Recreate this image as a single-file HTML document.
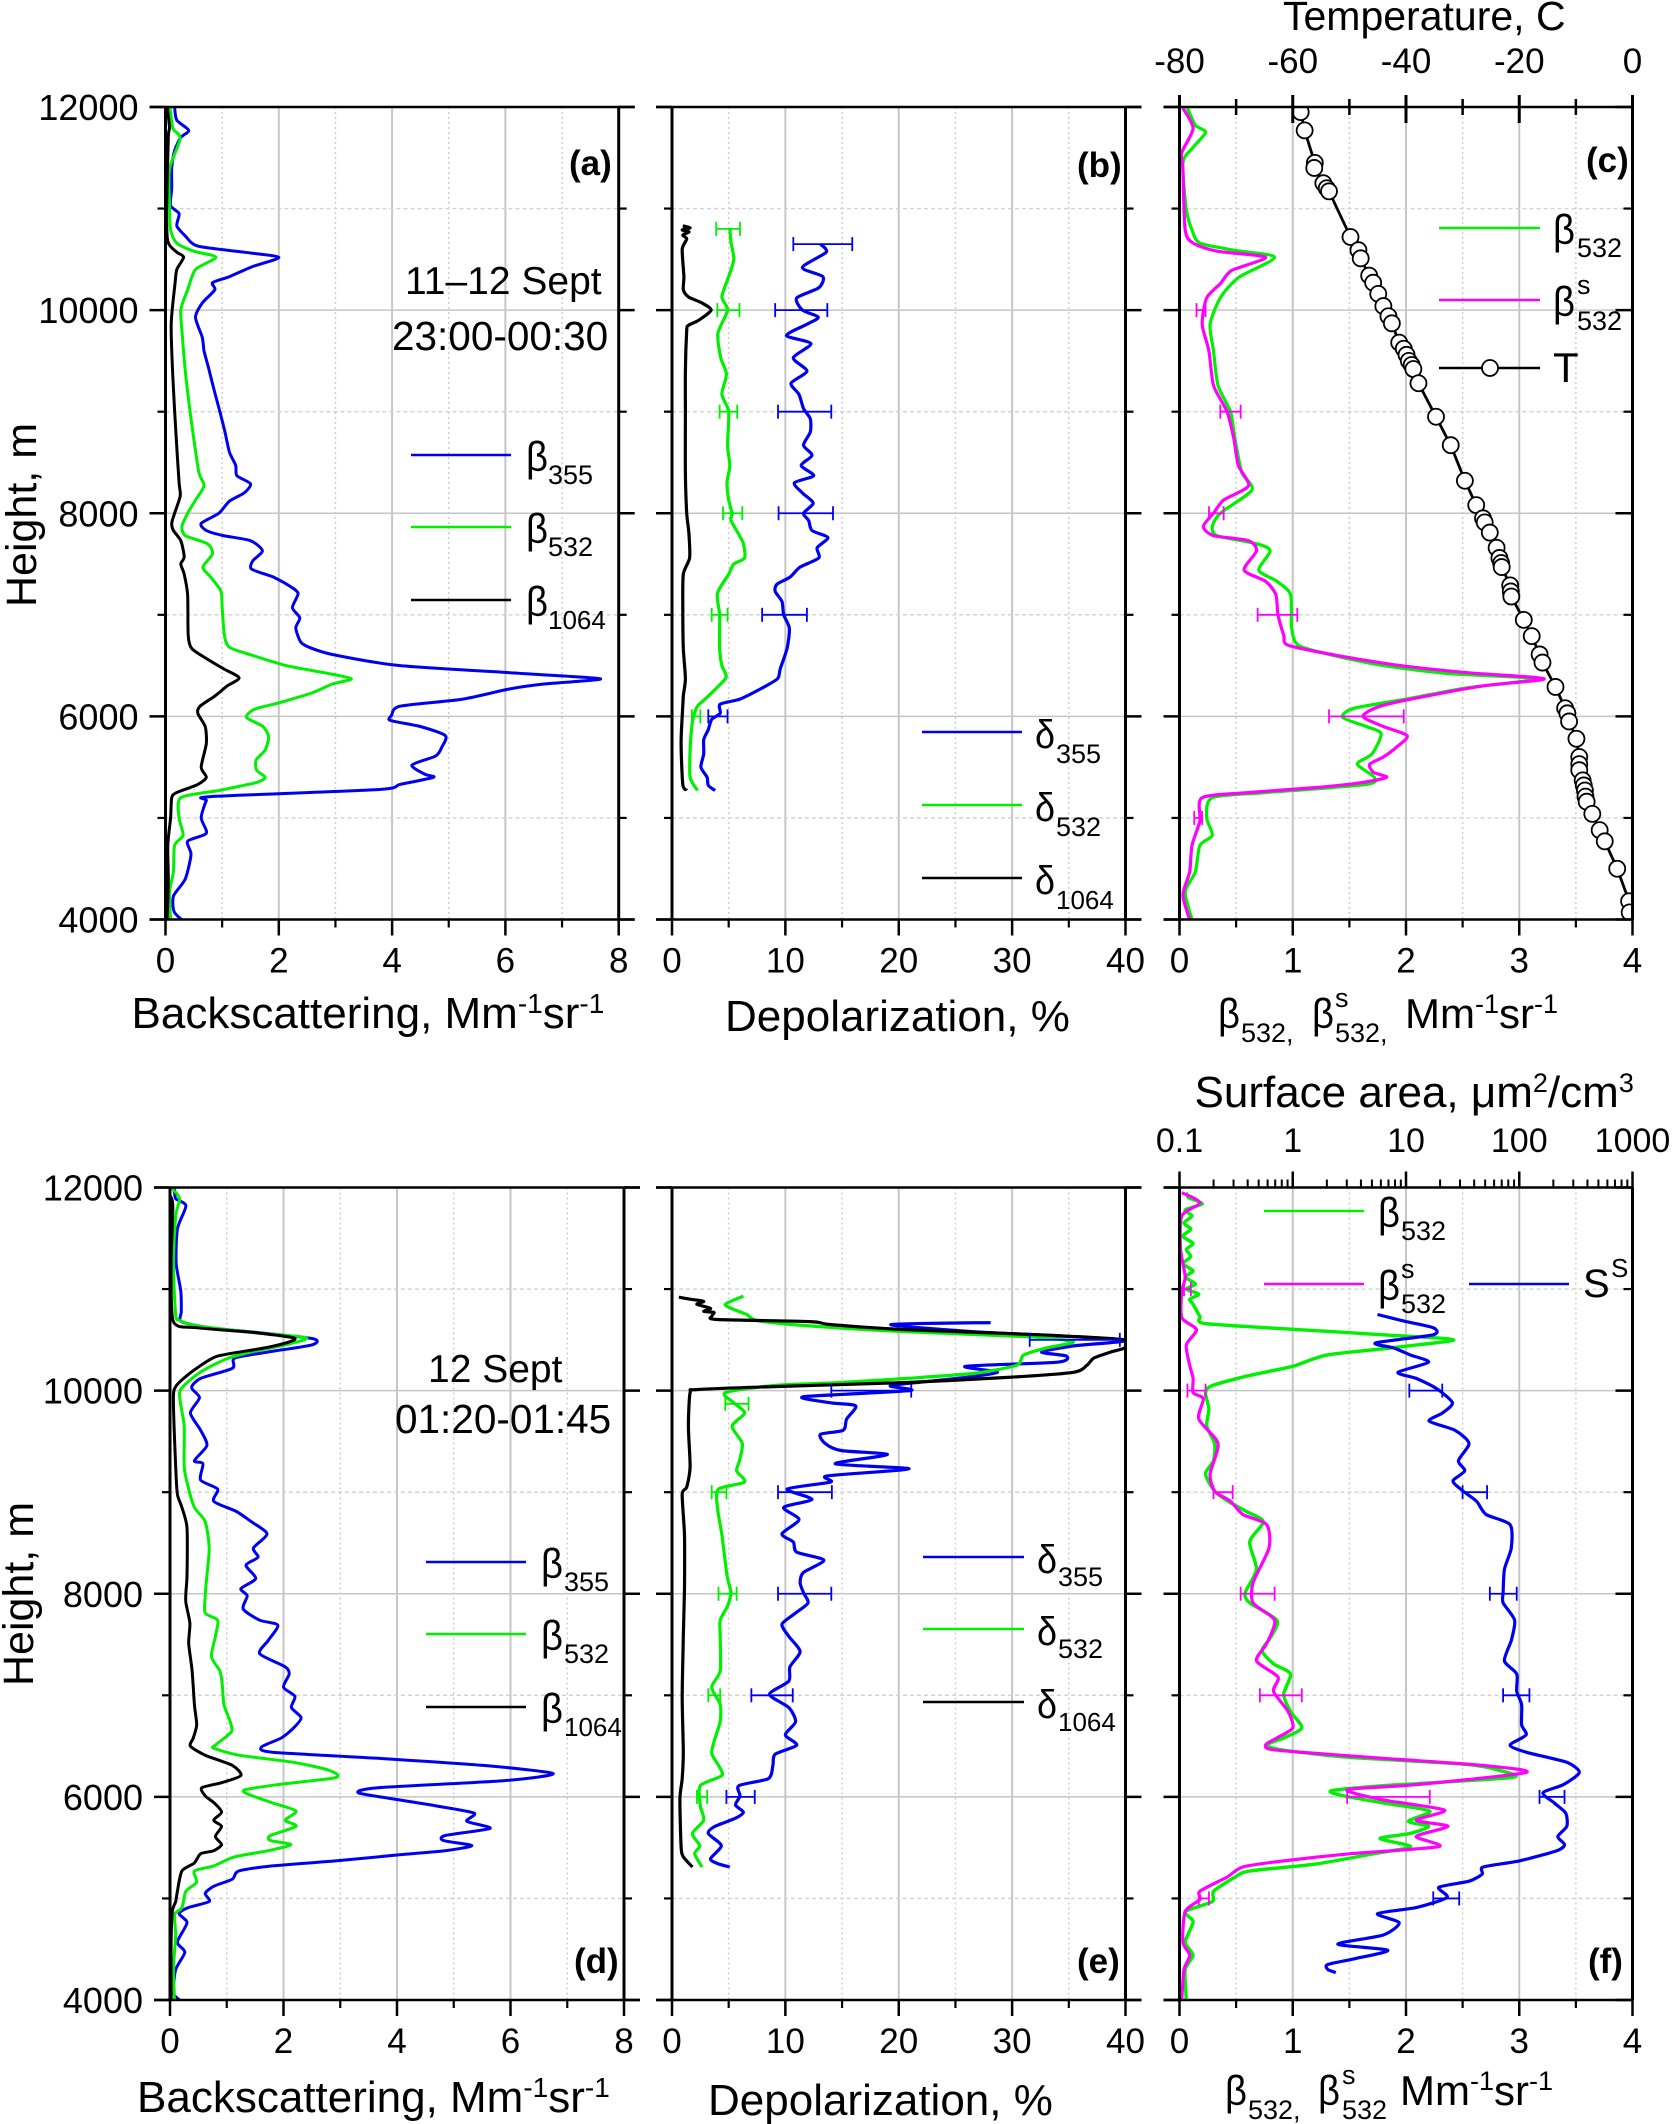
<!DOCTYPE html>
<html lang="en">
<head>
<meta charset="utf-8">
<title>Backscattering and depolarization profiles</title>
<style>
html,body{margin:0;padding:0;background:#fff;}
svg{display:block;}
text{font-family:"Liberation Sans",Arial,sans-serif;fill:#000;}
</style>
</head>
<body>
<svg id="figure" xmlns="http://www.w3.org/2000/svg" width="1673" height="2124" viewBox="0 0 1673 2124">
<rect x="0" y="0" width="1673" height="2124" fill="#fff"/>
<defs>
<clipPath id="clip-a"><rect x="165.5" y="107" width="453.2" height="812.5"/></clipPath>
<clipPath id="clip-b"><rect x="672" y="107" width="453.5" height="812.5"/></clipPath>
<clipPath id="clip-c"><rect x="1179.5" y="107" width="453" height="812.5"/></clipPath>
<clipPath id="clip-d"><rect x="170" y="1187.5" width="454" height="812.5"/></clipPath>
<clipPath id="clip-e"><rect x="672" y="1187.5" width="453.5" height="812.5"/></clipPath>
<clipPath id="clip-f"><rect x="1179.5" y="1187.5" width="453" height="812.5"/></clipPath>
</defs>
<g id="panel-a"></g>
<g id="panel-b"></g>
<g id="panel-c"></g>
<g id="panel-d"></g>
<g id="panel-e"></g>
<g id="panel-f"></g>

<!-- axis titles -->
<g font-size="44">
<text transform="translate(36,607) rotate(-90)" font-size="43">Height, m</text>
<text transform="translate(33,1686) rotate(-90)" font-size="43">Height, m</text>
<text x="131.5" y="1028">Backscattering, Mm<tspan dy="-15" font-size="28">-1</tspan><tspan dy="15">sr</tspan><tspan dy="-15" font-size="28">-1</tspan></text>
<text x="725" y="1031">Depolarization, %</text>
<text x="137" y="2112">Backscattering, Mm<tspan dy="-15" font-size="28">-1</tspan><tspan dy="15">sr</tspan><tspan dy="-15" font-size="28">-1</tspan></text>
<text x="708" y="2115">Depolarization, %</text>
</g>
<g>
<text x="1218" y="1028" font-size="42" textLength="22" lengthAdjust="spacingAndGlyphs">β</text>
<text x="1241" y="1042" font-size="27">532,</text>
<text x="1312" y="1028" font-size="42" textLength="22" lengthAdjust="spacingAndGlyphs">β</text>
<text x="1335" y="1007" font-size="27">s</text>
<text x="1335" y="1042" font-size="27">532,</text>
<text x="1405" y="1028" font-size="42">Mm<tspan dy="-15" font-size="27">-1</tspan><tspan dy="15">sr</tspan><tspan dy="-15" font-size="27">-1</tspan></text>
</g>
<g>
<text x="1225" y="2105" font-size="42" textLength="22" lengthAdjust="spacingAndGlyphs">β</text>
<text x="1248" y="2119" font-size="27">532,</text>
<text x="1318" y="2105" font-size="42" textLength="22" lengthAdjust="spacingAndGlyphs">β</text>
<text x="1342" y="2084" font-size="27">s</text>
<text x="1342" y="2119" font-size="27">532</text>
<text x="1400" y="2105" font-size="42">Mm<tspan dy="-15" font-size="27">-1</tspan><tspan dy="15">sr</tspan><tspan dy="-15" font-size="27">-1</tspan></text>
</g>
<text x="1283" y="30" font-size="41">Temperature, C</text>
<text x="1194.5" y="1107" font-size="44">Surface area, μm<tspan dy="-15" font-size="27">2</tspan><tspan dy="15">/cm</tspan><tspan dy="-15" font-size="27">3</tspan></text>

<!-- panel letters -->
<g font-size="35" font-weight="bold">
<text x="569" y="175">(a)</text>
<text x="1077" y="177">(b)</text>
<text x="1586" y="172">(c)</text>
<text x="574" y="1973">(d)</text>
<text x="1077" y="1973">(e)</text>
<text x="1588" y="1973">(f)</text>
</g>

<!-- annotations -->
<g font-size="39">
<text x="405" y="294">11–12 Sept</text>
<text x="392" y="350" font-size="40.5">23:00-00:30</text>
<text x="428" y="1382">12 Sept</text>
<text x="395" y="1433" font-size="40.5">01:20-01:45</text>
</g>

<!-- legend a -->
<g>
<g><line x1="411" x2="511" y1="455" y2="455" stroke="#0000f0" stroke-width="2.5"/><text x="526" y="471" font-size="42" textLength="22" lengthAdjust="spacingAndGlyphs">β</text><text x="548" y="484" font-size="27">355</text></g>
<g><line x1="411" x2="511" y1="527" y2="527" stroke="#00f000" stroke-width="2.5"/><text x="526" y="543" font-size="42" textLength="22" lengthAdjust="spacingAndGlyphs">β</text><text x="548" y="556" font-size="27">532</text></g>
<g><line x1="411" x2="511" y1="600" y2="600" stroke="#000" stroke-width="2.5"/><text x="526" y="616" font-size="42" textLength="22" lengthAdjust="spacingAndGlyphs">β</text><text x="548" y="629" font-size="26">1064</text></g>
</g>
<!-- legend b -->
<g>
<g><line x1="922" x2="1022" y1="732" y2="732" stroke="#0000f0" stroke-width="2.5"/><text x="1035" y="748" font-size="40" textLength="20" lengthAdjust="spacingAndGlyphs">δ</text><text x="1056" y="763" font-size="27">355</text></g>
<g><line x1="922" x2="1022" y1="805" y2="805" stroke="#00f000" stroke-width="2.5"/><text x="1035" y="821" font-size="40" textLength="20" lengthAdjust="spacingAndGlyphs">δ</text><text x="1056" y="836" font-size="27">532</text></g>
<g><line x1="922" x2="1022" y1="878" y2="878" stroke="#000" stroke-width="2.5"/><text x="1035" y="894" font-size="40" textLength="20" lengthAdjust="spacingAndGlyphs">δ</text><text x="1056" y="909" font-size="26">1064</text></g>
</g>
<!-- legend c -->
<g>
<g><line x1="1439" x2="1540" y1="228" y2="228" stroke="#00f000" stroke-width="2.5"/><text x="1553" y="244" font-size="42" textLength="22" lengthAdjust="spacingAndGlyphs">β</text><text x="1577" y="257" font-size="27">532</text></g>
<g><line x1="1439" x2="1540" y1="300" y2="300" stroke="#ff00ff" stroke-width="2.5"/><text x="1553" y="316" font-size="42" textLength="22" lengthAdjust="spacingAndGlyphs">β</text><text x="1577" y="294" font-size="27">s</text><text x="1577" y="330" font-size="27">532</text></g>
<g><line x1="1439" x2="1540" y1="368" y2="368" stroke="#000" stroke-width="2.5"/><circle cx="1490" cy="368" r="8" fill="#fff" stroke="#000" stroke-width="1.8"/><text x="1553" y="382" font-size="42">T</text></g>
</g>
<!-- legend d -->
<g>
<g><line x1="426" x2="526" y1="1562" y2="1562" stroke="#0000f0" stroke-width="2.5"/><text x="541" y="1578" font-size="42" textLength="22" lengthAdjust="spacingAndGlyphs">β</text><text x="564" y="1591" font-size="27">355</text></g>
<g><line x1="426" x2="526" y1="1634" y2="1634" stroke="#00f000" stroke-width="2.5"/><text x="541" y="1650" font-size="42" textLength="22" lengthAdjust="spacingAndGlyphs">β</text><text x="564" y="1663" font-size="27">532</text></g>
<g><line x1="426" x2="526" y1="1707" y2="1707" stroke="#000" stroke-width="2.5"/><text x="541" y="1723" font-size="42" textLength="22" lengthAdjust="spacingAndGlyphs">β</text><text x="564" y="1736" font-size="26">1064</text></g>
</g>
<!-- legend e -->
<g>
<g><line x1="923" x2="1024" y1="1557" y2="1557" stroke="#0000f0" stroke-width="2.5"/><text x="1037" y="1573" font-size="40" textLength="20" lengthAdjust="spacingAndGlyphs">δ</text><text x="1058" y="1586" font-size="27">355</text></g>
<g><line x1="923" x2="1024" y1="1629" y2="1629" stroke="#00f000" stroke-width="2.5"/><text x="1037" y="1645" font-size="40" textLength="20" lengthAdjust="spacingAndGlyphs">δ</text><text x="1058" y="1658" font-size="27">532</text></g>
<g><line x1="923" x2="1024" y1="1702" y2="1702" stroke="#000" stroke-width="2.5"/><text x="1037" y="1718" font-size="40" textLength="20" lengthAdjust="spacingAndGlyphs">δ</text><text x="1058" y="1731" font-size="26">1064</text></g>
</g>
<!-- legend f -->
<g>
<g><line x1="1264" x2="1364" y1="1211" y2="1211" stroke="#00f000" stroke-width="2.5"/><text x="1378" y="1227" font-size="42" textLength="22" lengthAdjust="spacingAndGlyphs">β</text><text x="1401" y="1240" font-size="27">532</text></g>
<g><line x1="1264" x2="1364" y1="1284" y2="1284" stroke="#ff00ff" stroke-width="2.5"/><text x="1378" y="1300" font-size="42" textLength="22" lengthAdjust="spacingAndGlyphs">β</text><text x="1401" y="1278" font-size="27">s</text><text x="1401" y="1313" font-size="27">532</text></g>
<g><line x1="1469" x2="1569" y1="1284" y2="1284" stroke="#0000f0" stroke-width="2.5"/><text x="1583" y="1297" font-size="40">S</text><text x="1611" y="1277" font-size="26">S</text></g>
</g>
</svg>

<script>
// ---- axis ticks ----
const heightMajor = [4000, 6000, 8000, 10000, 12000];
const heightMinor = [5000, 7000, 9000, 11000];
const backscatterMajor = [0, 2, 4, 6, 8];
const backscatterMinor = [1, 3, 5, 7];
const depolMajor = [0, 10, 20, 30, 40];
const depolMinor = [5, 15, 25, 35];
const beta532Major = [0, 1, 2, 3, 4];
const beta532Minor = [0.5, 1.5, 2.5, 3.5];
const temperatureMajor = [-80, -60, -40, -20, 0];
const temperatureMinor = [-70, -50, -30, -10];
const surfaceMajor = [0.1, 1, 10, 100, 1000];
const surfaceMinorMultipliers = [2, 3, 4, 5, 6, 7, 8, 9];

// ---- panel (a) ----
const aB355Height = [4000,4080,4230,4400,4640,4770,4850,5000,5170,5210,5280,5330,5400,5430,5520,5610,5700,5810,5900,5960,6010,6100,6170,6270,6320,6370,6420,6500,6600,6670,6730,6870,6970,7070,7210,7280,7370,7450,7530,7630,7730,7780,7830,7900,8000,8120,8200,8290,8370,8470,8600,8800,9000,9230,9430,9600,9730,9930,10070,10200,10270,10330,10430,10520,10570,10630,10730,10830,10950,11030,11200,11400,11570,11700,11770,11870,12000];
const aB355Value = [.28,.15,.14,.35,.45,.39,.72,.63,.72,.8,3.77,4.14,4.73,4.58,4.35,4.77,4.88,4.94,4.5,3.97,3.99,4.14,5.25,6.07,6.7,7.68,6.37,4.14,3.02,2.58,2.39,2.3,2.37,2.24,2.34,2.2,1.91,1.52,1.54,1.71,1.5,1.02,.72,.63,.94,1.13,1.39,1.5,1.26,1.24,1.13,1.05,.96,.85,.76,.68,.65,.53,.65,.87,.83,1.13,1.54,2.0,1.39,.57,.35,.2,.24,.09,.11,.11,.16,.27,.41,.2,.16];
const aB532Height = [4000,4270,4470,4730,4830,5000,5200,5270,5300,5350,5400,5470,5570,5670,5800,5900,5990,6070,6130,6230,6320,6370,6430,6500,6600,6680,6800,7070,7230,7370,7470,7600,7700,7780,7870,8000,8130,8270,8400,8730,9060,9400,9730,10000,10200,10400,10520,10580,10660,10790,11050,11390,11690,11790,12000];
const aB532Value = [.09,.07,.14,.16,.31,.24,.27,.94,1.2,1.61,1.76,1.61,1.6,1.76,1.82,1.72,1.43,1.57,1.98,2.58,2.95,3.28,2.8,2.13,1.54,1.13,1.04,1.0,.98,.8,.66,.83,.74,.35,.29,.39,.53,.68,.59,.5,.42,.35,.3,.27,.39,.53,.89,.5,.2,.09,.07,.07,.26,.13,.08];
const aB1064Height = [4000,4400,4730,5000,5200,5250,5330,5400,5500,5730,5900,6030,6100,6200,6300,6380,6470,6570,6670,6800,7200,7400,7500,7570,7730,7830,7900,8000,8170,8300,8730,9330,9860,10270,10400,10520,10570,10640,10720,11000,11700,11800,12000];
const aB1064Value = [.03,.05,.04,.09,.11,.2,.57,.72,.63,.72,.7,.57,.61,.87,1.09,1.3,1.02,.72,.46,.4,.39,.33,.27,.33,.27,.14,.11,.16,.26,.24,.19,.13,.1,.17,.2,.32,.2,.07,.03,.02,.05,.07,.03];

// ---- panel (b) ----
const bD355Height = [5270,5320,5400,5500,5630,5770,5870,5970,6030,6120,6170,6270,6370,6470,6670,6870,7000,7130,7230,7300,7370,7470,7560,7660,7760,7830,7930,8000,8100,8200,8300,8370,8470,8570,8670,8800,8930,9030,9170,9280,9400,9530,9670,9750,9860,9930,10000,10120,10220,10330,10420,10570,10650];
const bD355Value = [3.8,3.2,3.1,2.55,2.8,2.8,3.2,3.5,4.25,4.25,6,7.8,9.3,9.55,10.15,10.35,9.85,9.7,9.1,9.25,10.4,11.3,12.95,12.8,13.75,12.35,12.05,11.6,12.45,11.5,10.8,12.5,11.4,12.35,11.6,12.2,12.2,11.6,11.2,10.5,11.9,10.7,12.25,10.1,11.9,12.9,11.5,11,12.95,13.3,11.5,13.6,13.1];
const bD532Height = [5270,5400,5670,5900,6000,6100,6200,6380,6500,6670,7000,7210,7400,7500,7560,7700,7790,7930,8000,8130,8300,8470,8670,9000,9170,9370,9530,9770,10000,10130,10330,10500,10670,10810];
const bD532Value = [2.25,1.6,1.6,1.75,1.9,2.25,3.2,4.75,4.4,4.2,4.2,4,5,5.45,6.4,6.3,5.9,5.2,5.3,5,4.85,5.1,4.9,5,4.4,4.8,4.3,4.05,4.9,4.4,5,5.45,5.2,5.1];
const bD1064Height = [5270,5330,5730,6000,6200,6370,6670,7070,7400,7560,7790,8000,8400,9000,9400,9800,9850,9900,10000,10070,10130,10200,10330,10600,10700,10740,10770,10790,10810,10830];
const bD1064Value = [1.3,.95,.8,.9,1,1.18,1,.95,1,1.55,1.5,1.3,1.18,1.18,1.18,1.3,1.45,2.35,3.45,2.65,1.45,1,1.05,.9,1.3,.95,1.5,.9,1.6,.95];
const bErr355Height = [10650,10000,9000,8000,7000,6000];
const bErr355Low = [10.7,9.1,9.35,9.4,7.95,3.2];
const bErr355High = [15.9,13.7,14.05,14.2,11.9,4.9];
const bErr532Height = [10800,10000,9000,8000,7000,6000];
const bErr532Low = [3.9,4.0,4.2,4.5,3.5,1.75];
const bErr532High = [6.0,5.95,5.75,6.2,4.9,2.5];

// ---- panel (c) ----
const cB532Height = [4000,4270,4470,4730,4830,5000,5200,5250,5330,5400,5530,5630,5830,5900,5990,6080,6170,6280,6370,6420,6500,6600,6700,6870,7200,7330,7440,7630,7700,7780,7870,8000,8230,8400,8730,9000,9260,9600,9860,10120,10320,10520,10590,10660,10790,10990,11450,11590,11750,11820,11990];
const cB532Value = [.11,.05,.14,.18,.29,.24,.29,.77,1.65,1.72,1.57,1.7,1.78,1.65,1.44,1.54,2.0,2.53,3.15,2.39,1.8,1.36,1.05,.99,.98,.86,.7,.8,.68,.33,.29,.36,.64,.55,.49,.45,.34,.3,.27,.36,.52,.84,.48,.18,.11,.06,.03,.11,.23,.14,.07];
const cBs532Height = [4000,4240,4470,4730,4970,5200,5250,5300,5350,5400,5450,5530,5600,5700,5810,5900,6000,6100,6200,6300,6370,6430,6500,6600,6700,6800,7000,7200,7330,7440,7630,7730,7780,7870,8000,8130,8270,8470,8730,9000,9260,9600,9860,10120,10260,10390,10520,10580,10660,10790,11390,11550,11790,11990];
const cBs532Value = [.09,.03,.09,.11,.18,.2,.62,1.21,1.62,1.83,1.71,1.68,1.8,1.92,2.01,1.8,1.62,1.77,2.18,2.68,3.22,2.54,1.95,1.39,.96,.92,.87,.85,.76,.57,.68,.61,.3,.21,.3,.39,.61,.52,.48,.42,.3,.26,.2,.24,.36,.46,.76,.33,.12,.05,.03,.02,.12,.03];
const cErrHeight = [10000,9000,8000,7000,6000,5000];
const cErrLow = [.15,.36,.26,.69,1.32,.13];
const cErrHigh = [.23,.54,.39,1.04,1.98,.2];
const cTempHeight = [11950,11770,11450,11400,11250,11200,11170,10720,10590,10510,10340,10270,10160,10040,9940,9870,9680,9620,9560,9500,9460,9420,9280,8950,8670,8320,8080,7950,7910,7810,7660,7560,7510,7470,7290,7230,7180,6950,6790,6610,6530,6290,6080,6030,5950,5780,5600,5530,5470,5370,5320,5270,5210,5160,5040,4880,4770,4500,4180,4070];
const cTempValue = [-58.6,-57.9,-56.1,-56.2,-54.6,-54,-53.6,-49.8,-48.4,-48,-46.5,-45.8,-44.9,-44,-43.1,-42.5,-41.2,-40.4,-39.9,-39.5,-39,-38.7,-37.8,-34.7,-32.1,-29.6,-27.6,-26.4,-26.1,-25.2,-24,-23.5,-23.2,-23.1,-21.6,-21.5,-21.4,-19.2,-17.8,-16.4,-15.9,-13.6,-11.9,-11.5,-11.2,-9.9,-9.4,-9.4,-9.4,-8.8,-8.6,-8.4,-8.3,-8.1,-7.1,-5.8,-4.9,-2.7,-.6,-.5];

// ---- panel (d) ----
const dB355Height = [4000,4070,4300,4470,4570,4760,4850,4910,4970,5050,5120,5190,5270,5320,5370,5430,5470,5520,5570,5620,5690,5760,5840,5910,5970,6040,6090,6160,6230,6310,6380,6440,6490,6580,6680,6780,6880,6990,7080,7210,7280,7410,7540,7690,7740,7850,7980,8050,8150,8280,8360,8450,8590,8710,8810,8910,9030,9120,9280,9310,9460,9610,9780,9930,10030,10120,10220,10320,10380,10450,10510,10570,10620,10680,10780,10980,11250,11590,11820,11890,11990];
const dB355Value = [.17,.06,.1,.26,.13,.3,.16,.32,.69,.62,.77,1.1,1.21,1.8,2.92,4.04,4.85,5.32,4.82,4.85,5.64,5.23,5.36,4.7,4.04,3.32,3.67,5.9,6.75,5.52,3.67,1.8,1.61,1.96,2.18,2.31,2.14,2.2,2,2.1,2.03,1.58,1.73,1.9,1.58,1.29,1.36,1.25,1.51,1.34,1.55,1.47,1.71,1.43,1.17,.77,.84,.54,.58,.43,.65,.54,.36,.52,.38,.54,1.1,1.14,1.73,2.5,2.53,1.58,.69,.2,.2,.19,.11,.13,.28,.1,.08];
const dB532Height = [4000,4300,4640,4840,4910,5070,5160,5270,5320,5410,5470,5530,5570,5620,5710,5770,5860,5940,6030,6070,6120,6190,6260,6340,6410,6480,6510,6640,6740,6910,7110,7240,7380,7580,7740,7810,7980,8180,8450,8710,8850,9050,9250,9650,9980,10120,10220,10320,10380,10450,10520,10570,10640,10690,10750,11250,11720,11890,11990];
const dB532Value = [.08,.06,.1,.08,.21,.28,.47,.43,.77,1.14,1.73,2.13,1.77,1.77,2.22,2.03,2.22,1.81,1.36,1.32,1.88,2.92,2.81,2.18,1.21,.77,.8,1.08,1.06,.95,.92,.88,.73,.8,.84,.62,.62,.65,.69,.62,.43,.32,.25,.25,.17,.39,.65,1.03,1.43,2.03,2.4,1.51,.47,.17,.1,.06,.1,.17,.04];
const dB1064Height = [4000,4570,4870,4970,5070,5270,5350,5440,5470,5530,5610,5710,5770,5850,5940,6010,6090,6140,6210,6310,6410,6500,6580,6710,6910,7240,7510,7710,7910,8010,8180,8650,8850,8980,9250,9920,10040,10120,10220,10340,10420,10480,10520,10570,10620,10680,11250,11820,11920];
const dB1064Value = [.02,.02,.04,.1,.13,.21,.43,.54,.77,.91,.8,.91,.77,.91,.78,.62,.56,.91,1.25,1.1,.62,.36,.41,.47,.43,.39,.33,.35,.28,.28,.3,.3,.21,.13,.1,.06,.1,.24,.47,.84,1.66,2.1,2.18,1.51,.47,.06,.02,.05,0];

// ---- panel (e) ----
const eD355Height = [5310,5340,5390,5520,5640,5710,5790,5850,5920,6010,6110,6180,6310,6420,6510,6610,6740,6880,7010,7140,7280,7430,7580,7700,7810,7910,8010,8110,8210,8330,8410,8510,8590,8730,8850,8930,9030,9100,9160,9230,9280,9370,9410,9480,9570,9610,9720,9850,9880,9940,10000,10050,10120,10180,10240,10280,10340,10380,10440,10500,10580,10650,10670];
const eD355Value = [5.1,4.1,3.4,4.35,3.2,3.8,5.6,6.3,5.6,6,5.9,8.5,8.9,9.1,11,10,10.9,10.3,8.6,10.3,10.4,11.3,10.3,9.7,10.9,12,11.6,11.3,11.6,13.4,11,10.7,9.7,11.2,9.85,12.35,10.15,14,13.7,20.9,14.4,19,14.9,13.5,13.1,15.1,15.4,16.2,14,11.6,21,19.3,25.2,28.7,25.9,34,34.8,32.6,35.4,39.9,26.6,19.3,28.1];
const eD532Height = [5310,5440,5520,5640,5770,5910,6110,6210,6310,6430,6580,6740,6910,7080,7240,7580,7740,7880,8010,8180,8580,8850,9030,9100,9210,9310,9480,9650,9780,9880,9980,10050,10080,10120,10170,10250,10350,10420,10480,10530,10580,10640,10690,10750,10800,10850,10930];
const eD532Value = [2.65,2,2.45,1.8,2.8,2.5,2.5,4.4,4.1,3.5,3.8,4.25,4.25,3.5,4.25,4.25,4.25,4.9,5.2,4.85,4.4,4,4.1,6.4,5.7,5.95,6.2,5.3,6.4,5.45,4.7,9,14.9,20.7,26.6,30.4,31,33,35.4,31.6,20.7,11.9,7.5,6.6,5.45,4.7,6.3];
const eD1064Height = [5310,5410,5510,5980,6180,6440,6980,7580,8050,8580,8980,9050,9250,9650,9980,10010,10040,10080,10130,10180,10250,10320,10380,10420,10500,10550,10600,10650,10680,10700,10730,10770,10780,10810,10850,10880,10900,10920];
const eD1064Value = [1.8,1,.8,.7,.9,1,.9,1,1.1,1.1,.9,1.3,1.6,1.45,1.6,2.2,9,20.7,29.6,35.4,36.6,37.2,38.7,39.9,39.9,32.5,20.7,14,12.2,3.97,3.5,3.7,2.8,3.4,2.2,2.8,1.6,.6];
const eErr355Height = [10000,9000,8000,7000,6000,10500];
const eErr355Low = [14.05,9.35,9.35,7,4.8,31.55];
const eErr355High = [21.1,14.1,14.05,10.65,7.3,39.5];
const eErr532Height = [9870,9000,8000,7000,6000];
const eErr532Low = [4.7,3.5,4.1,3.2,2.2];
const eErr532High = [6.75,4.8,5.7,4.25,3.1];

// ---- panel (f) ----
const fB532Height = [4000,4300,4440,4570,4770,4870,4970,5070,5210,5270,5340,5440,5510,5590,5640,5710,5760,5860,5940,6010,6060,6110,6190,6260,6320,6390,6460,6510,6580,6680,6840,7010,7210,7310,7440,7580,7740,7910,8010,8240,8510,8710,8810,8910,9010,9180,9310,9480,9650,9820,9980,10050,10150,10240,10350,10420,10500,10550,10600,10660,10730,10850,10900,10950,11000,11050,11120,11180,11250,11320,11390,11450,11520,11590,11650,11720,11780,11840,11900,11950];
const fB532Value = [.06,.05,.12,.05,.12,.05,.29,.3,.49,.62,1.21,1.71,2.04,1.77,2.04,2.2,2.02,2.21,1.8,1.45,1.34,1.8,2.93,2.83,2.54,1.5,.92,.77,.92,1.08,.98,.92,.98,.83,.73,.81,.86,.62,.58,.68,.62,.74,.59,.43,.31,.23,.3,.31,.24,.26,.23,.29,.62,1,1.3,1.86,2.42,1.8,1.06,.23,.18,.12,.09,.17,.06,.14,.05,.12,.03,.1,.06,.12,.03,.1,.04,.11,.05,.2,.08,.06];
const fBs532Height = [4000,4300,4440,4570,4870,4990,5070,5210,5310,5370,5440,5510,5610,5710,5770,5870,5970,6070,6120,6240,6310,6380,6460,6510,6580,6680,6840,7040,7180,7340,7510,7740,7910,8110,8450,8680,8780,8910,9010,9180,9480,9720,9920,9980,10120,10250,10450,10600,10720,10980,11120,11390,11720,11850,11950];
const fBs532Value = [.02,.04,.09,.03,.05,.18,.18,.42,.56,.92,1.5,2.29,2.09,2.37,2.09,2.34,1.8,1.48,2.09,3.06,2.68,1.8,.86,.76,.86,1,.96,.83,.87,.68,.77,.84,.65,.65,.79,.77,.56,.45,.31,.27,.34,.17,.21,.12,.12,.09,.06,.15,.02,.02,.05,.01,.02,.18,.02];
const fSurfaceHeight = [4270,4300,4350,4410,4490,4550,4640,4760,4850,4910,5010,5110,5170,5240,5310,5370,5470,5530,5610,5710,5840,5940,6040,6120,6240,6340,6440,6510,6610,6710,6910,7040,7210,7340,7540,7740,7910,8010,8240,8450,8680,8780,8910,9010,9110,9210,9310,9480,9610,9700,9780,9880,10020,10120,10180,10280,10350,10420,10470,10550,10620,10680,10750];
const fSurfaceValue = [2.4,2.04,2.04,3.63,6.9,2.5,6.3,8.7,5.6,12.3,23,19.5,36,47,48,100,214,251,219,263,257,204,162,245,339,263,115,83,115,105,105,95,95,74,85,91,72,72,74,85,83,51,42,32,26,33,29,36,27,16,21,25.7,18.6,12.3,8.5,15.8,11,7.8,5.4,17.4,17.4,10,5.6];
const fErrBetaHeight = [11000,10000,9000,8000,7000,6000,5000];
const fErrBetaLow = [.04,.07,.3,.54,.71,1.48,.17];
const fErrBetaHigh = [.1,.23,.47,.84,1.08,2.21,.26];
const fErrSurfaceHeight = [10000,9000,8000,7000,6000,5000];
const fErrSurfaceLow = [10.7,31.6,55,72,151,17.4];
const fErrSurfaceHigh = [20.9,52,95,123,251,29.5];

// ---- drawing ----
const BLUE = '#0000f0', GREEN = '#00f000', MAGENTA = '#ff00ff', BLACK = '#000000';
const SVGNS = 'http://www.w3.org/2000/svg';

function make(parent, tag, attrs, name) {
  const node = document.createElementNS(SVGNS, tag);
  for (const k in attrs) node.setAttribute(k, attrs[k]);
  
  
  parent.appendChild(node);
  return node;
}

function linearScale(dMin, dMax, rMin, rMax) {
  return v => rMin + (v - dMin) / (dMax - dMin) * (rMax - rMin);
}
function logScale(dMin, dMax, rMin, rMax) {
  return v => rMin + (Math.log10(v) - Math.log10(dMin)) / (Math.log10(dMax) - Math.log10(dMin)) * (rMax - rMin);
}

function tickLabel(parent, x, y, str, anchor, size, name) {
  const t = make(parent, 'text', {x: x, y: y, 'text-anchor': anchor, 'font-size': size}, name);
  t.textContent = str;
}

function panel(id, geo, xMajor, xMinor, xMax, opts) {
  const root = document.getElementById(id);
  const sx = linearScale(0, xMax, geo.l, geo.r);
  const sy = linearScale(4000, 12000, geo.b, geo.t);
  const grid = make(root, 'g', {}, id + '-grid');
  xMajor.forEach(v => {
    if (v === 0 || v === xMax) return;
    make(grid, 'line', {x1: sx(v), x2: sx(v), y1: geo.t, y2: geo.b, stroke: '#c6c6c6', 'stroke-width': 2}, 'vertical-gridline');
  });
  xMinor.forEach(v => {
    make(grid, 'line', {x1: sx(v), x2: sx(v), y1: geo.t, y2: geo.b, stroke: '#cfcfcf', 'stroke-width': 1.5, 'stroke-dasharray': '2 3'}, 'vertical-minor-gridline');
  });
  heightMajor.forEach(h => {
    if (h === 4000 || h === 12000) return;
    make(grid, 'line', {x1: geo.l, x2: geo.r, y1: sy(h), y2: sy(h), stroke: '#c6c6c6', 'stroke-width': 1.6}, 'horizontal-gridline');
  });
  heightMinor.forEach(h => {
    make(grid, 'line', {x1: geo.l, x2: geo.r, y1: sy(h), y2: sy(h), stroke: '#d2d2d2', 'stroke-width': 1.3, 'stroke-dasharray': '4 3'}, 'horizontal-minor-gridline');
  });
  const series = make(root, 'g', {'clip-path': 'url(#clip-' + id.slice(-1) + ')'}, id + '-series');
  const axes = make(root, 'g', {}, id + '-axes');
  const rEnd = opts.rightOut ? geo.r + 16 : geo.r;
  make(axes, 'line', {x1: geo.l - 16, x2: rEnd, y1: geo.t, y2: geo.t, stroke: '#000', 'stroke-width': 2.5}, 'top-axis-line');
  make(axes, 'line', {x1: geo.l - 16, x2: rEnd, y1: geo.b, y2: geo.b, stroke: '#000', 'stroke-width': 2.5}, 'bottom-axis-line');
  make(axes, 'line', {x1: geo.l, x2: geo.l, y1: geo.t, y2: geo.b, stroke: '#000', 'stroke-width': 3}, 'left-axis-line');
  make(axes, 'line', {x1: geo.r, x2: geo.r, y1: geo.t, y2: geo.b, stroke: '#000', 'stroke-width': 3}, 'right-axis-line');
  heightMajor.forEach(h => {
    make(axes, 'line', {x1: geo.l - 16, x2: geo.l, y1: sy(h), y2: sy(h), stroke: '#000', 'stroke-width': 2.5}, 'y-major-tick-left');
    make(axes, 'line', {x1: geo.r, x2: opts.rightOut ? geo.r + 16 : geo.r - 17, y1: sy(h), y2: sy(h), stroke: '#000', 'stroke-width': 2.5}, 'y-major-tick-right');
    if (opts.yLabels) tickLabel(axes, geo.l - 27, sy(h) + 13, String(h), 'end', 36, 'y-tick-label');
  });
  heightMinor.forEach(h => {
    make(axes, 'line', {x1: geo.l - 8, x2: geo.l, y1: sy(h), y2: sy(h), stroke: '#000', 'stroke-width': 2.2}, 'y-minor-tick-left');
    make(axes, 'line', {x1: geo.r, x2: opts.rightOut ? geo.r + 8 : geo.r - 9, y1: sy(h), y2: sy(h), stroke: '#000', 'stroke-width': 2.2}, 'y-minor-tick-right');
  });
  xMajor.forEach(v => {
    make(axes, 'line', {x1: sx(v), x2: sx(v), y1: geo.b, y2: geo.b + 16, stroke: '#000', 'stroke-width': 2.5}, 'x-major-tick');
    tickLabel(axes, sx(v), geo.b + 53, String(v), 'middle', 35, 'x-tick-label');
  });
  xMinor.forEach(v => {
    make(axes, 'line', {x1: sx(v), x2: sx(v), y1: geo.b, y2: geo.b + 8, stroke: '#000', 'stroke-width': 2.2}, 'x-minor-tick');
  });
  return {series: series, axes: axes, sx: sx, sy: sy, geo: geo};
}

function profile(p, heights, values, color, width, name, scale) {
  const sx = scale || p.sx;
  const pts = heights.map((h, i) => [sx(values[i]), p.sy(h)]);
  const k = 0.12;
  let d = 'M' + pts[0][0].toFixed(1) + ' ' + pts[0][1].toFixed(1);
  for (let i = 0; i < pts.length - 1; i++) {
    const a = pts[Math.max(i - 1, 0)], b = pts[i], c = pts[i + 1], e = pts[Math.min(i + 2, pts.length - 1)];
    d += 'C' + (b[0] + (c[0] - a[0]) * k).toFixed(1) + ' ' + (b[1] + (c[1] - a[1]) * k).toFixed(1) + ' '
       + (c[0] - (e[0] - b[0]) * k).toFixed(1) + ' ' + (c[1] - (e[1] - b[1]) * k).toFixed(1) + ' '
       + c[0].toFixed(1) + ' ' + c[1].toFixed(1);
  }
  make(p.series, 'path', {d: d, fill: 'none', stroke: color, 'stroke-width': width, 'stroke-linejoin': 'round'}, name);
}

function errorBars(p, heights, low, high, color, name, scale) {
  const sx = scale || p.sx;
  heights.forEach((h, i) => {
    const y = p.sy(h), a = sx(low[i]), b = sx(high[i]);
    make(p.series, 'line', {x1: a, x2: b, y1: y, y2: y, stroke: color, 'stroke-width': 1.8}, name);
    make(p.series, 'line', {x1: a, x2: a, y1: y - 7, y2: y + 7, stroke: color, 'stroke-width': 1.8}, name + '-cap');
    make(p.series, 'line', {x1: b, x2: b, y1: y - 7, y2: y + 7, stroke: color, 'stroke-width': 1.8}, name + '-cap');
  });
}

const rowTop = {t: 107, b: 919.5};
const rowBottom = {t: 1187.5, b: 2000};

// (a)
const pa = panel('panel-a', {l: 165.5, r: 618.7, t: rowTop.t, b: rowTop.b}, backscatterMajor, backscatterMinor, 8, {yLabels: true, rightOut: true});
profile(pa, aB355Height, aB355Value, BLUE, 3, 'series-beta-355');
profile(pa, aB532Height, aB532Value, GREEN, 3, 'series-beta-532');
profile(pa, aB1064Height, aB1064Value, BLACK, 3, 'series-beta-1064');

// (b)
const pb = panel('panel-b', {l: 672, r: 1125.5, t: rowTop.t, b: rowTop.b}, depolMajor, depolMinor, 40, {rightOut: true});
profile(pb, bD1064Height, bD1064Value, BLACK, 3.2, 'series-delta-1064');
profile(pb, bD532Height, bD532Value, GREEN, 3.2, 'series-delta-532');
profile(pb, bD355Height, bD355Value, BLUE, 3.2, 'series-delta-355');
errorBars(pb, bErr355Height, bErr355Low, bErr355High, BLUE, 'error-bar-delta-355');
errorBars(pb, bErr532Height, bErr532Low, bErr532High, GREEN, 'error-bar-delta-532');

// (c)
const pc = panel('panel-c', {l: 1179.5, r: 1632.5, t: rowTop.t, b: rowTop.b}, beta532Major, beta532Minor, 4, {rightOut: false});
const tempScale = linearScale(-80, 0, pc.geo.l, pc.geo.r);
const tempPath = cTempHeight.map((h, i) => (i ? 'L' : 'M') + tempScale(cTempValue[i]).toFixed(1) + ' ' + pc.sy(h).toFixed(1)).join('');
make(pc.series, 'path', {d: tempPath, fill: 'none', stroke: BLACK, 'stroke-width': 2.8}, 'series-temperature-line');
cTempHeight.forEach((h, i) => {
  make(pc.series, 'circle', {cx: tempScale(cTempValue[i]), cy: pc.sy(h), r: 8, fill: '#fff', stroke: BLACK, 'stroke-width': 1.8}, 'temperature-point');
});
profile(pc, cB532Height, cB532Value, GREEN, 3.2, 'series-beta-532');
profile(pc, cBs532Height, cBs532Value, MAGENTA, 3.2, 'series-beta-s-532');
errorBars(pc, cErrHeight, cErrLow, cErrHigh, MAGENTA, 'error-bar-beta-s-532');
temperatureMajor.forEach(v => {
  make(pc.axes, 'line', {x1: tempScale(v), x2: tempScale(v), y1: rowTop.t - 12, y2: rowTop.t + 16, stroke: '#000', 'stroke-width': 3}, 'top-major-tick');
  tickLabel(pc.axes, tempScale(v), 73, String(v), 'middle', 35, 'top-tick-label');
});
temperatureMinor.forEach(v => {
  make(pc.axes, 'line', {x1: tempScale(v), x2: tempScale(v), y1: rowTop.t - 8, y2: rowTop.t + 8, stroke: '#000', 'stroke-width': 2.5}, 'top-minor-tick');
});

// (d)
const pd = panel('panel-d', {l: 170, r: 624, t: rowBottom.t, b: rowBottom.b}, backscatterMajor, backscatterMinor, 8, {yLabels: true, rightOut: true});
profile(pd, dB355Height, dB355Value, BLUE, 3, 'series-beta-355');
profile(pd, dB532Height, dB532Value, GREEN, 3, 'series-beta-532');
profile(pd, dB1064Height, dB1064Value, BLACK, 3, 'series-beta-1064');

// (e)
const pe = panel('panel-e', {l: 672, r: 1125.5, t: rowBottom.t, b: rowBottom.b}, depolMajor, depolMinor, 40, {rightOut: true});
profile(pe, eD355Height, eD355Value, BLUE, 3.2, 'series-delta-355');
profile(pe, eD532Height, eD532Value, GREEN, 3.2, 'series-delta-532');
profile(pe, eD1064Height, eD1064Value, BLACK, 3.2, 'series-delta-1064');
errorBars(pe, eErr355Height, eErr355Low, eErr355High, BLUE, 'error-bar-delta-355');
errorBars(pe, eErr532Height, eErr532Low, eErr532High, GREEN, 'error-bar-delta-532');

// (f)
const pf = panel('panel-f', {l: 1179.5, r: 1632.5, t: rowBottom.t, b: rowBottom.b}, beta532Major, beta532Minor, 4, {rightOut: false});
const surfScale = logScale(0.1, 1000, pf.geo.l, pf.geo.r);
profile(pf, fB532Height, fB532Value, GREEN, 3.4, 'series-beta-532');
profile(pf, fBs532Height, fBs532Value, MAGENTA, 3.2, 'series-beta-s-532');
profile(pf, fSurfaceHeight, fSurfaceValue, BLUE, 3.2, 'series-surface-area', surfScale);
errorBars(pf, fErrBetaHeight, fErrBetaLow, fErrBetaHigh, MAGENTA, 'error-bar-beta-s-532');
errorBars(pf, fErrSurfaceHeight, fErrSurfaceLow, fErrSurfaceHigh, BLUE, 'error-bar-surface-area', surfScale);
surfaceMajor.forEach(v => {
  make(pf.axes, 'line', {x1: surfScale(v), x2: surfScale(v), y1: rowBottom.t - 16, y2: rowBottom.t, stroke: '#000', 'stroke-width': 2.5}, 'top-major-tick');
  tickLabel(pf.axes, surfScale(v), 1152, String(v), 'middle', 34, 'top-tick-label');
  if (v < 1000) {
    surfaceMinorMultipliers.forEach(m => {
      make(pf.axes, 'line', {x1: surfScale(v * m), x2: surfScale(v * m), y1: rowBottom.t - 8, y2: rowBottom.t, stroke: '#000', 'stroke-width': 2}, 'top-minor-tick');
    });
  }
});
</script>
</body>
</html>
